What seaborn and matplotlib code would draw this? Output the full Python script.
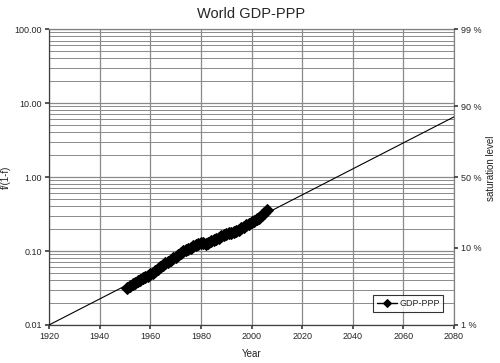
import numpy as np
import pandas as pd
import matplotlib
matplotlib.use("Agg")
import matplotlib.pyplot as plt
import seaborn as sns
from matplotlib.ticker import FixedLocator, FixedFormatter, LogLocator, NullFormatter

years = list(range(1951, 2007))
gdp_ratio = [0.032, 0.034, 0.036, 0.037, 0.039, 0.041, 0.043, 0.044, 0.046, 0.049,
             0.051, 0.054, 0.057, 0.061, 0.064, 0.068, 0.071, 0.075, 0.080, 0.084,
             0.088, 0.094, 0.100, 0.103, 0.106, 0.111, 0.116, 0.121, 0.125, 0.127,
             0.128, 0.126, 0.129, 0.135, 0.140, 0.146, 0.152, 0.159, 0.165, 0.170,
             0.173, 0.177, 0.180, 0.186, 0.195, 0.204, 0.213, 0.222, 0.232, 0.245,
             0.255, 0.267, 0.283, 0.302, 0.330, 0.360]
trend_years = [1920, 2080]
trend_ratio = [0.01, 6.5]

x_ticks = [1920, 1940, 1960, 1980, 2000, 2020, 2040, 2060, 2080]
y_ticks = [0.01, 0.1, 1, 10, 100]
y_tick_labels = ["0.01", "0.10", "1.00", "10.00", "100.00"]
sat_levels = [0.01, 0.10, 0.50, 0.90, 0.99]
sat_labels = ["1 %", "10 %", "50 %", "90 %", "99 %"]

sns.set_theme(style="white")
plt.rcParams["font.family"] = ["Liberation Sans", "DejaVu Sans"]

fig = plt.figure(figsize=(5.0, 3.63), dpi=100)
ax = fig.add_axes([0.098, 0.1047, 0.81, 0.8153])

df_trend = pd.DataFrame({"Year": trend_years, "ratio": trend_ratio})
df_data = pd.DataFrame({"Year": years, "ratio": gdp_ratio})

sns.lineplot(data=df_trend, x="Year", y="ratio", ax=ax, color="black", lw=0.8,
             legend=False, zorder=3)
sns.lineplot(data=df_data, x="Year", y="ratio", ax=ax, color="black", lw=3,
             marker="D", markersize=6.5, markeredgecolor="black",
             label="GDP-PPP", zorder=4)

ax.set_yscale("log")
ax.set_xlim(1920, 2080)
ax.set_ylim(0.01, 100)

ax.xaxis.set_major_locator(FixedLocator(x_ticks))
ax.set_xticklabels([str(t) for t in x_ticks])
ax.yaxis.set_major_locator(FixedLocator(y_ticks))
ax.yaxis.set_major_formatter(FixedFormatter(y_tick_labels))
ax.yaxis.set_minor_locator(LogLocator(base=10, subs=np.arange(2, 10)))
ax.yaxis.set_minor_formatter(NullFormatter())

ax.grid(True, which="major", axis="both", color="#8a8a8a", lw=0.9)
ax.grid(True, which="minor", axis="y", color="#8a8a8a", lw=0.7)
ax.set_axisbelow(True)

for s in ax.spines.values():
    s.set_color("#808080")
    s.set_linewidth(0.9)
ax.spines["left"].set_color("#404040")
ax.spines["bottom"].set_color("#404040")

ax.tick_params(axis="both", which="major", labelsize=6.5, length=3, color="#404040",
               left=True, bottom=True, pad=2)
ax.tick_params(axis="y", which="minor", length=0)

ax.set_xlabel("Year", fontsize=7, color="#222222", labelpad=6)
ax.set_ylabel("f/(1-f)", fontsize=7, color="#222222")
ax.yaxis.set_label_coords(-0.095, 0.5)
ax.set_title("World GDP-PPP", fontsize=10.5, pad=8)

ax2 = ax.twinx()
ax2.set_yscale("log")
ax2.set_ylim(0.01, 100)
sat_pos = [l / (1 - l) for l in sat_levels]
ax2.yaxis.set_major_locator(FixedLocator(sat_pos))
ax2.yaxis.set_major_formatter(FixedFormatter(sat_labels))
ax2.yaxis.set_minor_locator(FixedLocator([]))
ax2.tick_params(axis="y", which="major", labelsize=6.5, length=3, color="#404040",
                right=True, pad=2)
ax2.set_ylabel("saturation level", fontsize=7, color="#222222")
ax2.yaxis.set_label_coords(1.08, 0.53)
for s in ax2.spines.values():
    s.set_visible(False)

leg = ax.legend(loc="lower right", bbox_to_anchor=(0.985, 0.03), fontsize=6.5,
                frameon=True, fancybox=False, handlelength=2.2, borderpad=0.4,
                handletextpad=0.3)
leg.get_frame().set_edgecolor("black")
leg.get_frame().set_linewidth(0.8)
for h in leg.get_lines():
    h.set_linewidth(1.0)
    h.set_markersize(4)

fig.savefig("out.png", dpi=100)
